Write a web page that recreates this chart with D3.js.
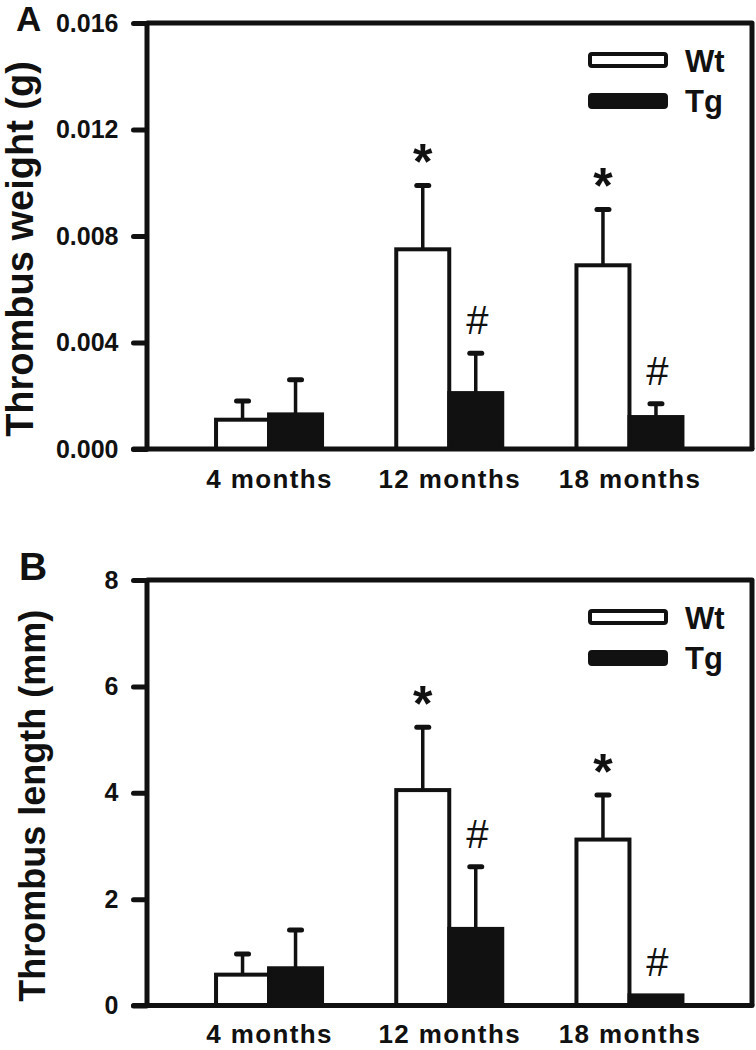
<!DOCTYPE html>
<html>
<head>
<meta charset="utf-8">
<script src="https://cdn.jsdelivr.net/npm/d3@7"></script>
<style>
  html, body { margin: 0; padding: 0; background: #fff; }
  svg { display: block; }
  text { font-family: "Liberation Sans", Arial, sans-serif; fill: #111; }
</style>
</head>
<body>
<svg id="chart" width="756" height="1050"></svg>
<script>
// ---------------- data ----------------
const categories = ["4 months", "12 months", "18 months"];
const seriesNames = ["Wt", "Tg"];

// Panel A: thrombus weight (g)
const weightWt    = [0.0011, 0.0075, 0.0069];
const weightWtSem = [0.0007, 0.0024, 0.0021];
const weightTg    = [0.0013, 0.0021, 0.0012];
const weightTgSem = [0.0013, 0.0015, 0.0005];
const weightTicks = [0, 0.004, 0.008, 0.012, 0.016];
const weightTickLabels = ["0.000", "0.004", "0.008", "0.012", "0.016"];

// Panel B: thrombus length (mm)
const lengthWt    = [0.58, 4.05, 3.12];
const lengthWtSem = [0.39, 1.18, 0.84];
const lengthTg    = [0.70, 1.44, 0.19];
const lengthTgSem = [0.72, 1.17, 0.0];
const lengthTicks = [0, 2, 4, 6, 8];
const lengthTickLabels = ["0", "2", "4", "6", "8"];

// significance marks
const wtMarks = ["", "*", "*"];
const tgMarks = ["", "#", "#"];

// ---------------- drawing ----------------
const svg = d3.select("#chart");
const left = 146.5, right = 752;

const panels = [
  { letter: "A", letterX: 16, letterY: 31, letterSize: 35,
    top: 23, bottom: 449, max: 0.016, ticks: weightTicks, tickLabels: weightTickLabels,
    title: "Thrombus weight (g)", titleX: 33, titleSize: 38, xPad: 21,
    wt: weightWt, wtSem: weightWtSem, tg: weightTg, tgSem: weightTgSem },
  { letter: "B", letterX: 19, letterY: 580, letterSize: 39,
    top: 580, bottom: 1005.5, max: 8, ticks: lengthTicks, tickLabels: lengthTickLabels,
    title: "Thrombus length (mm)", titleX: 45, titleSize: 36, xPad: 19,
    wt: lengthWt, wtSem: lengthWtSem, tg: lengthTg, tgSem: lengthTgSem }
];

const x0 = d3.scalePoint().domain(categories).range([left, right]).padding(0.68);
const x1 = d3.scaleBand().domain(seriesNames).range([-53, 53]).padding(0);

panels.forEach(p => {
  const g = svg.append("g");
  const y = d3.scaleLinear().domain([0, p.max]).range([p.bottom, p.top]);

  const rows = categories.map((c, i) => ({
    cat: c,
    vals: [
      { s: "Wt", v: p.wt[i], e: p.wtSem[i], mark: wtMarks[i] },
      { s: "Tg", v: p.tg[i], e: p.tgSem[i], mark: tgMarks[i] }
    ]
  }));

  const grp = g.selectAll("g.grp").data(rows).join("g")
    .attr("class", "grp")
    .attr("transform", d => `translate(${x0(d.cat)},0)`);

  // error bars (upper only)
  grp.selectAll("line.err").data(d => d.vals.filter(v => v.e > 0)).join("line")
    .attr("x1", d => x1(d.s) + x1.bandwidth() / 2)
    .attr("x2", d => x1(d.s) + x1.bandwidth() / 2)
    .attr("y1", d => y(d.v))
    .attr("y2", d => y(d.v + d.e))
    .attr("stroke", "#111").attr("stroke-width", 3.5);
  grp.selectAll("line.cap").data(d => d.vals.filter(v => v.e > 0)).join("line")
    .attr("x1", d => x1(d.s) + x1.bandwidth() / 2 - 6)
    .attr("x2", d => x1(d.s) + x1.bandwidth() / 2 + 6)
    .attr("y1", d => y(d.v + d.e))
    .attr("y2", d => y(d.v + d.e))
    .attr("stroke", "#111").attr("stroke-width", 5).attr("stroke-linecap", "round");

  grp.selectAll("rect").data(d => d.vals).join("rect")
    .attr("x", d => x1(d.s))
    .attr("width", x1.bandwidth())
    .attr("y", d => y(d.v))
    .attr("height", d => y(0) - y(d.v))
    .attr("fill", d => d.s === "Wt" ? "#fff" : "#111")
    .attr("stroke", "#111").attr("stroke-width", 4);

  // significance marks
  grp.selectAll("text.mark").data(d => d.vals.filter(v => v.mark)).join("text")
    .attr("class", "mark")
    .attr("x", d => x1(d.s) + x1.bandwidth() / 2 + (d.mark === "#" ? 1.5 : 0))
    .attr("y", d => y(d.v + d.e) - (d.mark === "*" ? 6 : 19))
    .attr("text-anchor", "middle")
    .attr("font-size", d => d.mark === "*" ? 50 : 40)
    .attr("font-weight", d => d.mark === "*" ? "bold" : "normal")
    .text(d => d.mark);

  // frame: top and right
  g.append("path")
    .attr("d", `M${left},${p.top}H${right}V${p.bottom}`)
    .attr("fill", "none").attr("stroke", "#111").attr("stroke-width", 5)
    .attr("stroke-linejoin", "round");

  // y axis
  const yAxis = d3.axisLeft(y).tickValues(p.ticks)
    .tickFormat((d, i) => p.tickLabels[i])
    .tickSizeInner(13).tickSizeOuter(0).tickPadding(15);
  const ya = g.append("g").attr("transform", `translate(${left},0)`).call(yAxis);
  ya.select(".domain").attr("stroke", "#111").attr("stroke-width", 5);
  ya.selectAll(".tick line").attr("stroke", "#111").attr("stroke-width", 5).attr("stroke-linecap", "round");
  ya.selectAll(".tick text").attr("font-size", 25).attr("font-weight", "bold")
    .attr("font-family", "Liberation Sans, Arial, sans-serif").attr("fill", "#111");

  // x axis
  const xAxis = d3.axisBottom(x0).tickSize(0).tickPadding(p.xPad);
  const xa = g.append("g").attr("transform", `translate(0,${p.bottom})`).call(xAxis);
  xa.select(".domain").attr("d", `M${left - 13},0H${right}`)
    .attr("stroke", "#111").attr("stroke-width", 5).attr("stroke-linecap", "round");
  xa.selectAll(".tick text").attr("font-size", 26).attr("font-weight", "bold")
    .attr("letter-spacing", "1.4px")
    .attr("font-family", "Liberation Sans, Arial, sans-serif").attr("fill", "#111");

  // y title
  g.append("text")
    .attr("transform", `translate(${p.titleX},${(p.top + p.bottom) / 2 + 13}) rotate(-90)`)
    .attr("text-anchor", "middle")
    .attr("font-size", p.titleSize).attr("font-weight", "bold")
    .text(p.title);

  // panel letter
  g.append("text").attr("x", p.letterX).attr("y", p.letterY)
    .attr("font-size", p.letterSize).attr("font-weight", "bold").text(p.letter);

  // legend
  const lg = g.append("g").attr("transform", `translate(590,${p.top})`);
  const items = [{ s: "Wt", dy: 31, ty: 49 }, { s: "Tg", dy: 72, ty: 89 }];
  lg.selectAll("rect").data(items).join("rect")
    .attr("x", 0).attr("y", d => d.dy).attr("width", 76).attr("height", 12)
    .attr("rx", 2)
    .attr("fill", d => d.s === "Wt" ? "#fff" : "#111")
    .attr("stroke", "#111").attr("stroke-width", 4);
  lg.selectAll("text").data(items).join("text")
    .attr("x", 95).attr("y", d => d.ty)
    .attr("font-size", 31).attr("font-weight", "bold")
    .text(d => d.s);
});
</script>
</body>
</html>
